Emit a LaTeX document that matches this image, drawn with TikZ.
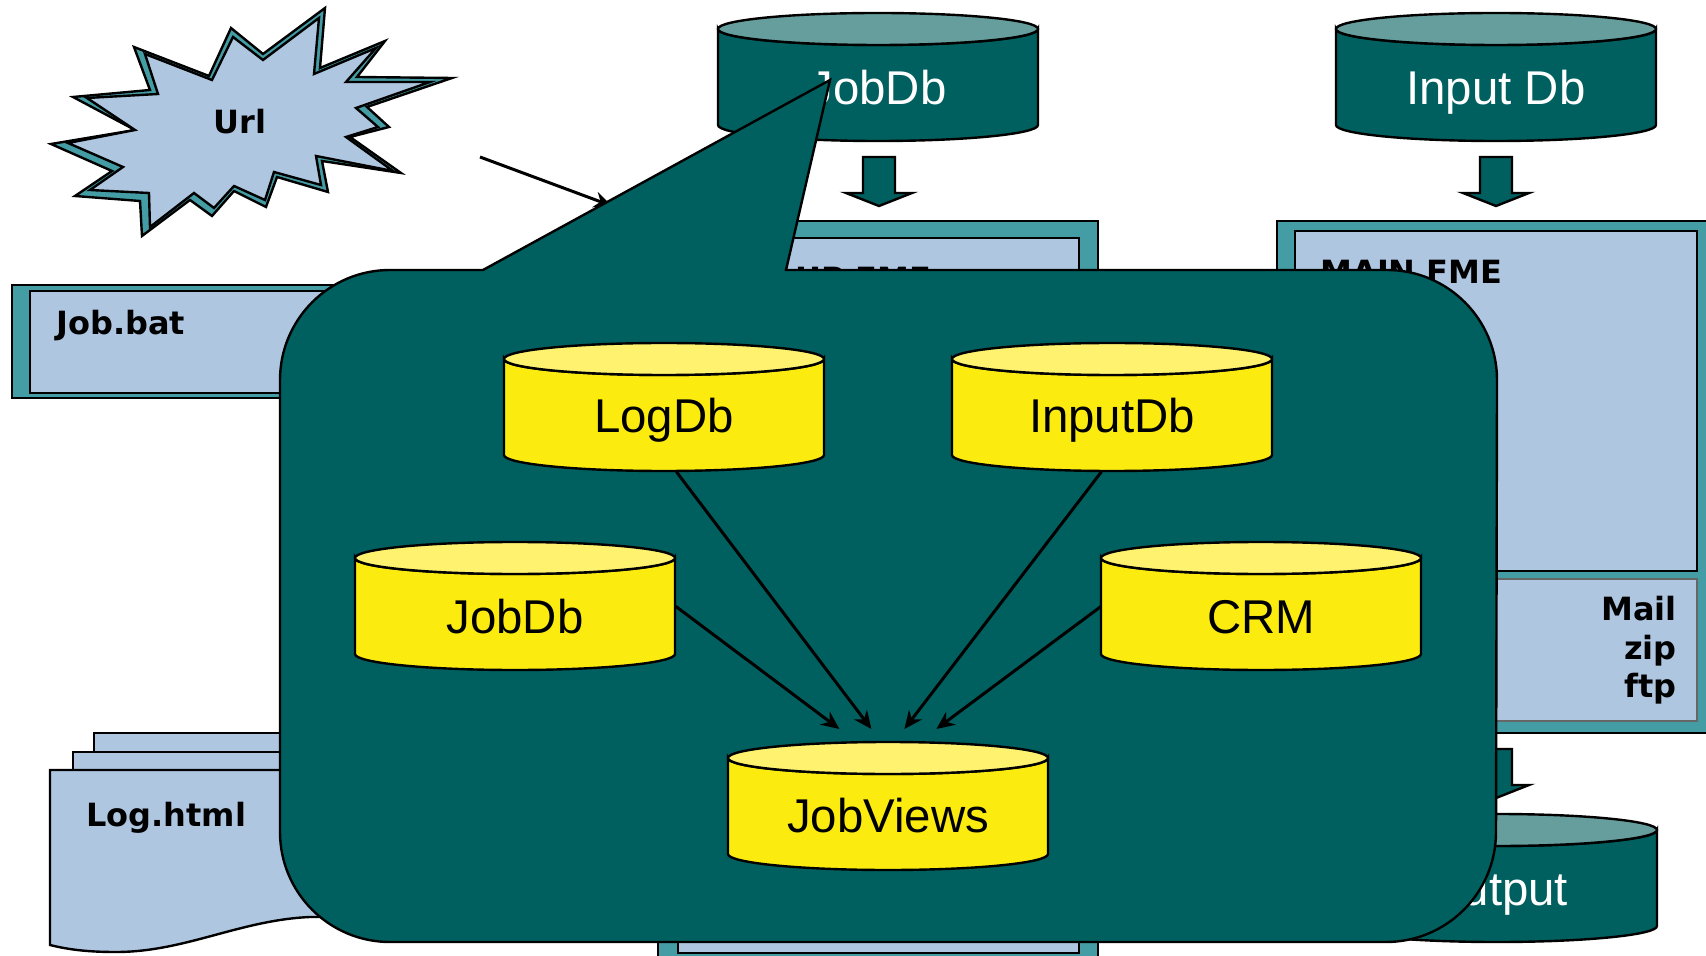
\documentclass[tikz,border=0pt]{standalone}
\usepackage{fontspec}
\setmainfont{Liberation Sans}
\newfontfamily\boldlab{DejaVu Sans Bold}
\usetikzlibrary{arrows.meta,calc}
\definecolor{dteal}{HTML}{005F5F}
\definecolor{shteal}{HTML}{449CA4}
\definecolor{lblue}{HTML}{AFC6E1}
\definecolor{dtop}{HTML}{669E9E}
\definecolor{ybody}{HTML}{FCEB0F}
\definecolor{ytop}{HTML}{FFF26E}
\tikzset{
  ol/.style={draw=black,line width=1.2pt,line join=miter},
  lab/.style={font=\boldlab\fontsize{16}{18}\selectfont,text=black,inner sep=0pt},
  cyltext/.style={font=\fontsize{23.7}{28}\selectfont,inner sep=0pt},
  flow/.style={draw=black,line width=1.5pt,-{Stealth[length=9pt,width=8pt]}},
  anchorbox/.style={minimum width=160pt,minimum height=64pt,inner sep=0pt,anchor=north west}
}
% name, x-left, y-top, body, top, text colour, text, text baseline y
\newcommand{\cylnode}[8]{%
  \draw[ol,fill=#4] (#2,#3+16) -- (#2,#3+112)
     arc[start angle=180,end angle=0,x radius=160,y radius=16]
     -- (#2+320,#3+16) arc[start angle=0,end angle=180,x radius=160,y radius=16] -- cycle;
  \draw[ol,fill=#5] (#2+160,#3+16) ellipse[x radius=160,y radius=16];
  \node[anchorbox] (#1) at (#2,#3) {};
  \node[cyltext,text=#6,anchor=base] (#1-t) at (#2+160,#8) {#7};
}
\newcommand{\blockarrow}[3]{% name, center x, top y
  \draw[ol,fill=dteal] (#2-16,#3) -- (#2+16,#3) -- (#2+16,#3+36) -- (#2+33,#3+36)
     -- (#2,#3+49) -- (#2-33,#3+36) -- (#2-16,#3+36) -- cycle;
  \coordinate (#1) at (#2,#3);
}
\begin{document}
\begin{tikzpicture}[x=0.5pt,y=-0.5pt]
\useasboundingbox (0,0) rectangle (1706,956);
\clip (0,0) rectangle (1706,956);
\fill[white] (0,0) rectangle (1706,956);

% starburst
\draw[ol,fill=shteal] (325,8) -- (320,68) -- (385,41) -- (357,77) -- (452,78) -- (367,107) -- (389,127) -- (350,137) -- (401,173) -- (322,161) -- (328,192) -- (277,177) -- (266,207) -- (234,191) -- (212,216) -- (190,200) -- (142,236) -- (140,201) -- (75,196) -- (112,171) -- (51,144) -- (135,130) -- (73,97) -- (150,90) -- (134,47) -- (209,76) -- (231,28) -- (263,54) -- cycle;
\draw[ol,fill=lblue] (319,18) -- (314,74) -- (376,48) -- (346,82) -- (430,82) -- (356,108) -- (378,127) -- (346,137) -- (393,171) -- (316,156) -- (321,185) -- (274,172) -- (265,200) -- (234,186) -- (214,208) -- (194,193) -- (150,227) -- (149,193) -- (90,190) -- (123,167) -- (68,143) -- (135,130) -- (87,98) -- (158,94) -- (145,54) -- (212,80) -- (233,37) -- (263,60) -- cycle;
\node[lab,anchor=base] (url) at (240,134) {Url};

% job.bat
\draw[ol,fill=shteal] (12,285) rectangle (420,398);
\draw[ol,fill=lblue] (30,291) rectangle (420,393);
\node[lab,anchor=base west] (jobbat) at (56,335) {Job.bat};

% log.html
\draw[ol,fill=lblue] (94,733) rectangle (420,800);
\draw[ol,fill=lblue] (73,752) rectangle (420,800);
\draw[ol,fill=lblue] (50,770) -- (420,770) -- (420,917) -- (310,917)
  .. controls (240,920) and (185,952) .. (116,952)
  .. controls (90,952) and (70,950) .. (50,945) -- cycle;
\node[lab,anchor=base west] (loghtml) at (86,826) {Log.html};

% top cylinders and block arrows
\cylnode{jobdbtop}{718}{13}{dteal}{dtop}{white}{JobDb}{105}
\cylnode{inputtop}{1336}{13}{dteal}{dtop}{white}{Input Db}{105}
\cylnode{outputcyl}{1337}{814}{dteal}{dtop}{white}{Output}{905}
\blockarrow{barrowa}{879}{157}
\blockarrow{barrowb}{1496}{157}
\blockarrow{barrowc}{1496}{749}

% FME boxes
\draw[ol,fill=shteal] (658,221) rectangle (1098,980);
\draw[ol,fill=lblue] (678,238) rectangle (1079,953);
\node[lab,anchor=base west] (upfme) at (795,291) {UP FME};
\draw[ol,fill=shteal] (1277,221) rectangle (1730,733);
\draw[ol,fill=lblue] (1295,231) rectangle (1697,571);
\draw[draw=black!60,line width=.6pt,fill=lblue] (1295,579) rectangle (1697,721);
\node[lab,anchor=base west] (mainfme) at (1320,284) {MAIN FME};
\node[lab,anchor=base east] (mail) at (1677,620) {Mail};
\node[lab,anchor=base east] (zip) at (1677,659) {zip};
\node[lab,anchor=base east] (ftp) at (1677,697) {ftp};

% url arrow (its tip passes under the callout)
\coordinate (urlfrom) at (480,157);
\coordinate (urlto) at (612,206);
\draw[flow] (urlfrom) -- (urlto);

% callout
\draw[ol,fill=dteal] (483,270) -- (830,80) -- (786,270) -- (1387,270)
  arc[start angle=-90,end angle=0,radius=110] -- (1496,832)
  arc[start angle=0,end angle=90,radius=110] -- (390,942)
  arc[start angle=90,end angle=180,radius=110] -- (280,380)
  arc[start angle=180,end angle=270,radius=110] -- cycle;

% yellow databases
\cylnode{logdb}{504}{343}{ybody}{ytop}{black}{LogDb}{433}
\cylnode{inputdb}{952}{343}{ybody}{ytop}{black}{InputDb}{433}
\cylnode{jobdb}{355}{542}{ybody}{ytop}{black}{JobDb}{633}
\cylnode{crm}{1101}{542}{ybody}{ytop}{black}{CRM}{633}
\cylnode{jobviews}{728}{742}{ybody}{ytop}{black}{JobViews}{832}

\draw[flow] (jobdb.east) -- ($(jobviews.north)+(-49,-13)$);
\draw[flow] ($(logdb.south)+(12,0)$) -- ($(jobviews.north)+(-17,-13)$);
\draw[flow] ($(inputdb.south)+(-11,0)$) -- ($(jobviews.north)+(16,-13)$);
\draw[flow] (crm.west) -- ($(jobviews.north)+(48,-13)$);
\end{tikzpicture}
\end{document}
